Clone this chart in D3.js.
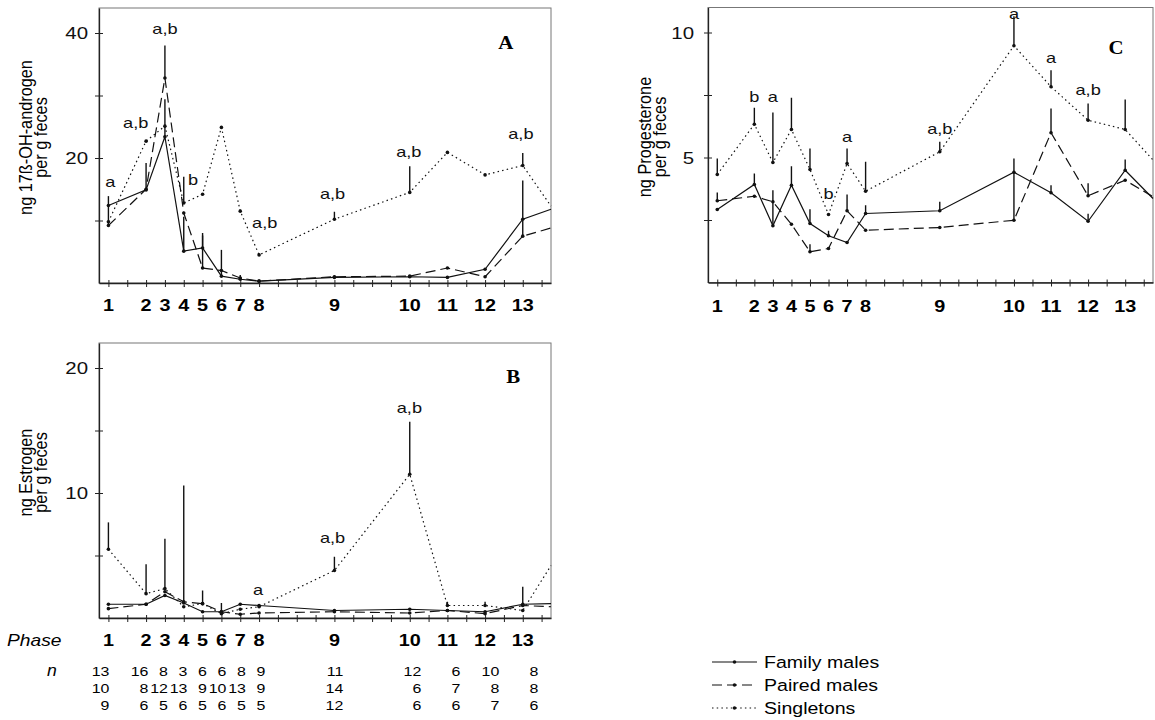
<!DOCTYPE html>
<html>
<head>
<meta charset="utf-8">
<script src="https://cdn.jsdelivr.net/npm/d3@7"></script>
<style>
  body { margin: 0; background: #fff; }
  svg { display: block; font-family: "Liberation Sans", Arial, sans-serif; }
</style>
</head>
<body>
<svg id="fig" width="1155" height="720"></svg>
<script>
// phases and their position on the time axis
var phases = ["1","2","3","4","5","6","7","8","9","10","11","12","13"];
var phasePos = [0, 2, 3, 4, 5, 6, 7, 8, 12, 16, 18, 20, 22];
var edgePos = 23.5; // lines run on to the right border
var groups = ["Family males", "Paired males", "Singletons"];

// A: 17B-OH-androgen (last value = where the line leaves the frame)
var famA  = [12.4, 14.9, 23.4, 5.1, 5.6, 1.1, 0.6, 0.3, 0.9, 1.0, 0.9, 2.2, 10.2, 11.8];
var pairA = [9.2, 15.0, 32.8, 11.2, 2.4, 2.0, 0.8, 0.3, 1.0, 1.1, 2.4, 1.0, 7.5, 8.8];
var singA = [9.8, 22.7, 25.1, 12.8, 14.2, 24.9, 11.5, 4.5, 10.2, 14.5, 20.9, 17.3, 18.8, 12.3];
var famAse  = [1.5, 4.3, 6, 5.5, 2, 4.2, 0.7, 0, 0, 0, 0, 0, 6.2];
var pairAse = [3, 0, 5.2, 0, 5.6, 0, 0, 0, 0, 0, 0, 0, 2.5];
var singAse = [0, 0, 0, 4.2, 0, 0, 0, 0, 1.2, 4.2, 0, 0, 2];
var annA = [[0.1, 15.4, "a"], [1.45, 24.8, "a,b"], [3, 39.9, "a,b"], [4.49, 15.7, "b"],
            [8.3, 8.75, "a,b"], [11.9, 13.4, "a,b"], [15.95, 20.2, "a,b"], [21.9, 23, "a,b"]];

// B: estrogen
var famB  = [1.1, 1.1, 1.8, 1.2, 0.5, 0.5, 1.1, 1.0, 0.6, 0.7, 0.6, 0.5, 1.1, 1.15];
var pairB = [0.75, 1.1, 2.1, 1.3, 1.15, 0.5, 0.3, 0.4, 0.5, 0.4, 0.6, 0.35, 1.0, 0.9];
var singB = [5.5, 1.95, 2.35, 0.9, 1.15, 0.35, 0.7, 0.9, 3.8, 11.5, 1.0, 1.0, 0.6, 4.2];
var famBse  = [0, 0, 0, 9.4, 0, 0.7, 0, 0, 0, 0, 0, 0, 1.4];
var pairBse = [0, 0, 0, 0, 0, 0, 0, 0, 0, 0, 0, 0, 0];
var singBse = [2.15, 2.35, 4, 0, 1.05, 0, 0, 0, 1.1, 4.2, 0.3, 0.3, 0];
var annB = [[7.94, 1.85, "a"], [11.9, 6.0, "a,b"], [15.98, 16.4, "a,b"]];

// C: progesterone
var famC  = [2.92, 3.92, 2.27, 3.89, 2.36, 1.87, 1.6, 2.76, 2.87, 4.41, 3.59, 2.45, 4.49, 3.36];
var pairC = [3.27, 3.45, 3.23, 2.33, 1.23, 1.36, 2.87, 2.09, 2.2, 2.49, 5.99, 3.47, 4.09, 3.43];
var singC = [4.32, 6.33, 4.8, 6.12, 4.52, 2.72, 4.76, 3.65, 5.23, 9.47, 7.83, 6.49, 6.12, 4.9];
var famCse  = [0, 0.44, 1.0, 0.76, 0.57, 0.2, 0, 0.33, 0.36, 0.55, 0.3, 0.3, 0.43];
var pairCse = [0.33, 0, 0.46, 0, 0.3, 0, 0.65, 0, 0, 1.9, 0.97, 0.5, 0];
var singCse = [0.64, 0.66, 2.0, 1.27, 0.84, 0, 0.6, 1.18, 0.4, 1.18, 0.66, 0.67, 1.2];
var annC = [[2, 7.22, "b"], [3, 7.22, "a"], [6, 3.36, "b"], [7, 5.62, "a"], [12, 5.96, "a,b"],
            [16, 10.56, "a"], [18, 8.8, "a"], [20, 7.49, "a,b"]];

// sample sizes per phase
var nFamily = [13, 16, 8, 3, 6, 6, 8, 9, 11, 12, 6, 10, 8];
var nPaired = [10, 8, 12, 13, 9, 10, 13, 9, 14, 6, 7, 8, 8];
var nSingle = [9, 6, 5, 6, 5, 6, 5, 5, 12, 6, 6, 7, 6];

var dashes = [null, "10,5", "1.5,3.2"];
var sx = 1.24; // text in the scan is a bit wide

var svg = d3.select("#fig");

function wtext(g, x, y, txt, size, anchor, k) {
  return g.append("text")
    .attr("transform", "translate(" + x + "," + y + ") scale(" + (k || sx) + ",1)")
    .attr("text-anchor", anchor || "middle")
    .style("font-size", size + "px")
    .text(txt);
}

function panel(opt) {
  var x = d3.scaleLinear().domain([-0.5, 23.5]).range([opt.left, opt.right]);
  var y = d3.scaleLinear().domain([0, opt.ymax]).range([opt.bottom, opt.top]);
  var g = svg.append("g");
  var allPos = phasePos.concat([edgePos]);

  g.append("rect")
    .attr("x", opt.left).attr("y", opt.top)
    .attr("width", opt.right - opt.left).attr("height", opt.bottom - opt.top)
    .attr("fill", "none").attr("stroke", "#777").attr("stroke-width", 1);

  // y axis
  var ya = g.append("g")
    .attr("transform", "translate(" + opt.left + ",0)")
    .call(d3.axisLeft(y).tickValues(opt.yticks).tickSize(5).tickSizeOuter(0).tickPadding(8)
      .tickFormat(function(v) { return opt.ylabels.indexOf(v) >= 0 ? v : ""; }));
  ya.select(".domain").attr("stroke", "#222").attr("stroke-width", 1.3);
  ya.selectAll(".tick line").attr("x2", 4).attr("x1", -4).attr("stroke", "#222");
  ya.selectAll(".tick text")
    .style("font-size", "16.5px").attr("fill", "#111")
    .attr("transform", "scale(" + sx + ",1)")
    .attr("x", -opt.labelGap / sx).attr("dy", "0.36em");

  // x axis with a tick per time unit
  var xa = g.append("g")
    .attr("transform", "translate(0," + opt.bottom + ")")
    .call(d3.axisBottom(x).tickValues(d3.range(0, 24)).tickSize(4).tickSizeOuter(0).tickFormat(""));
  xa.select(".domain").attr("stroke", "#222").attr("stroke-width", 1.3);
  xa.selectAll(".tick line").attr("y1", -3).attr("stroke", "#222");

  phases.forEach(function(p, i) {
    wtext(g, x(phasePos[i]), opt.phaseY, p, 16.5, "middle", 1.2).style("font-weight", "bold");
  });

  // y label, two lines
  opt.ytitle.forEach(function(t, i) {
    g.append("text")
      .attr("transform", "translate(" + opt.ytitleX[i] + "," + ((opt.top + opt.bottom) / 2 - 8) + ") rotate(-90) scale(1,1.15)")
      .attr("text-anchor", "middle")
      .style("font-size", "16.3px")
      .text(t);
  });

  var line = d3.line()
    .x(function(d, i) { return x(allPos[i]); })
    .y(function(d) { return y(d); });

  opt.series.forEach(function(s, k) {
    g.append("path")
      .datum(s)
      .attr("d", line)
      .attr("fill", "none")
      .attr("stroke", "#111")
      .attr("stroke-width", 1.2)
      .attr("stroke-dasharray", dashes[k]);

    // error bars (upper only)
    g.selectAll(null)
      .data(opt.errors[k].map(function(e, i) { return {i: i, v: s[i], e: e}; }).filter(function(d) { return d.e > 0; }))
      .enter().append("line")
        .attr("x1", function(d) { return x(phasePos[d.i]); })
        .attr("x2", function(d) { return x(phasePos[d.i]); })
        .attr("y1", function(d) { return y(d.v); })
        .attr("y2", function(d) { return y(d.v + d.e); })
        .attr("stroke", "#111")
        .attr("stroke-width", 1.4);

    g.selectAll(null)
      .data(s.slice(0, phases.length))
      .enter().append("circle")
        .attr("cx", function(d, i) { return x(phasePos[i]); })
        .attr("cy", function(d) { return y(d); })
        .attr("r", 1.8)
        .attr("fill", "#111");
  });

  opt.notes.forEach(function(a) {
    wtext(g, x(a[0]), y(a[1]), a[2], 14, "middle", 1.3).attr("fill", "#111");
  });

  g.append("text")
    .attr("transform", "translate(" + x(opt.letterPos[0]) + "," + y(opt.letterPos[1]) + ") scale(1.1,1)")
    .attr("text-anchor", "middle")
    .style("font-family", "'Liberation Serif', 'Times New Roman', serif")
    .style("font-weight", "bold")
    .style("font-size", "19px")
    .text(opt.letter);

  return x;
}

panel({
  left: 99, right: 551, top: 8, bottom: 283, ymax: 44,
  yticks: [10, 20, 30, 40], ylabels: [20, 40], labelGap: 11,
  phaseY: 311,
  ytitle: ["ng 17\u00DF-OH-androgen", "per g feces"], ytitleX: [32, 47],
  series: [famA, pairA, singA], errors: [famAse, pairAse, singAse],
  notes: annA, letter: "A", letterPos: [21.1, 37.4]
});

var xB = panel({
  left: 99, right: 551, top: 343, bottom: 618, ymax: 22,
  yticks: [5, 10, 15, 20], ylabels: [10, 20], labelGap: 11,
  phaseY: 646,
  ytitle: ["ng Estrogen", "per g feces"], ytitleX: [32, 47],
  series: [famB, pairB, singB], errors: [famBse, pairBse, singBse],
  notes: annB, letter: "B", letterPos: [21.5, 18.8]
});

panel({
  left: 708, right: 1153, top: 7.5, bottom: 282.5, ymax: 11,
  yticks: [2.5, 5, 7.5, 10], ylabels: [5, 10], labelGap: 14,
  phaseY: 312,
  ytitle: ["ng Progesterone", "per g feces"], ytitleX: [651, 666],
  series: [famC, pairC, singC], errors: [famCse, pairCse, singCse],
  notes: annC, letter: "C", letterPos: [21.5, 9.16]
});

// Phase row and sample sizes under panel B
var tbl = svg.append("g");
wtext(tbl, 7, 646, "Phase", 16, "start", 1.2).style("font-style", "italic");
wtext(tbl, 47, 676, "n", 16, "start", 1.1).style("font-style", "italic");
[nFamily, nPaired, nSingle].forEach(function(row, r) {
  var yy = [676, 693, 710][r];
  row.forEach(function(v, i) {
    var px = xB(phasePos[i]);
    wtext(tbl, px + 1 + 0.035 * (px - 108), yy, v, 13.5, "end", 1.18);
  });
});

// legend
var leg = svg.append("g");
groups.forEach(function(name, k) {
  var yy = [662, 685, 708][k];
  leg.append("line")
    .attr("x1", 712).attr("x2", 757).attr("y1", yy).attr("y2", yy)
    .attr("stroke", "#111").attr("stroke-width", 1.2)
    .attr("stroke-dasharray", dashes[k]);
  leg.append("circle").attr("cx", 734.5).attr("cy", yy).attr("r", 1.8).attr("fill", "#111");
  wtext(leg, 764, yy + 6, name, 16.3, "start", 1.2);
});
</script>
</body>
</html>
